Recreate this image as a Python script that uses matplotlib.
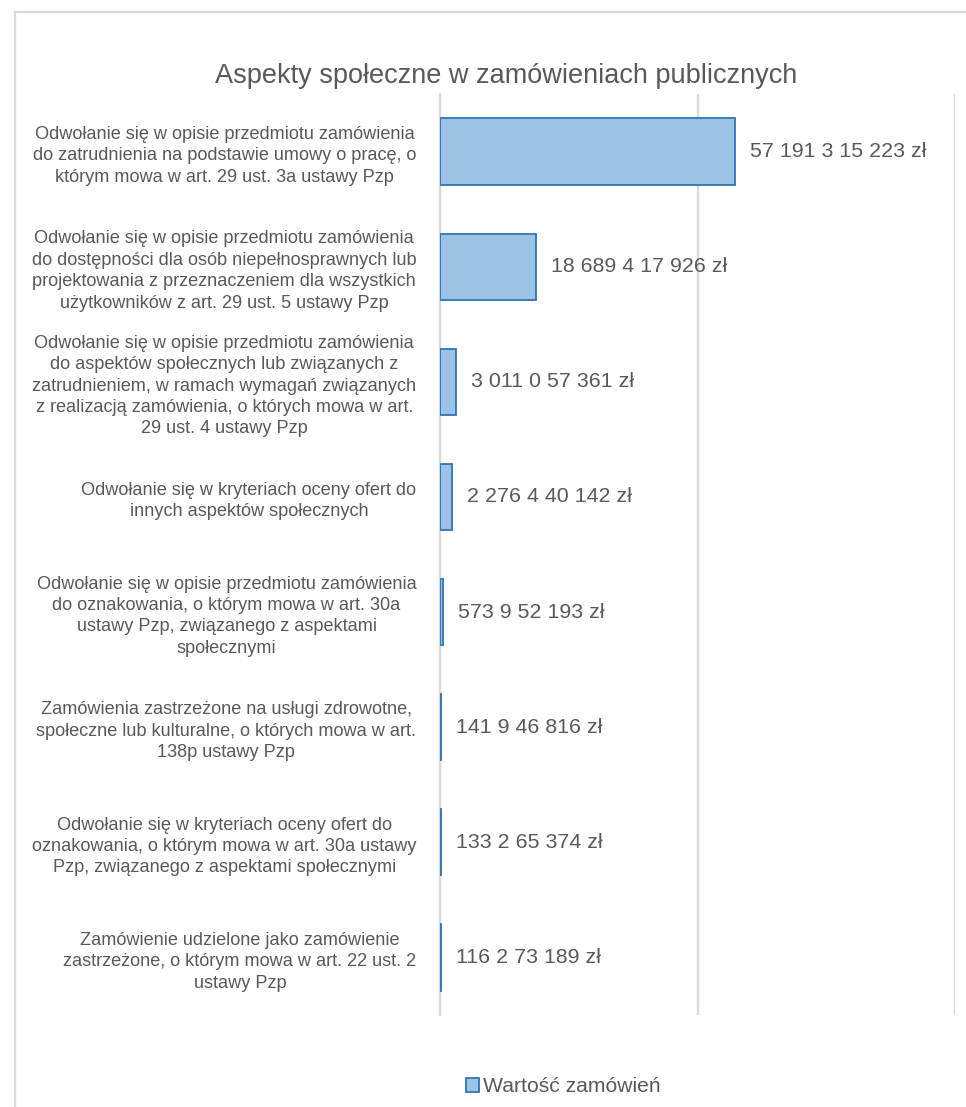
import matplotlib.pyplot as plt
from matplotlib.patches import Rectangle

plt.rcParams['font.family'] = ['Liberation Sans', 'DejaVu Sans']

# --- Data ---
TITLE = 'Aspekty społeczne w zamówieniach publicznych'
SERIES_NAME = 'Wartość zamówień'

categories = [
    'Odwołanie się w opisie przedmiotu zamówienia\n'
    'do zatrudnienia na podstawie umowy o pracę, o\n'
    'którym mowa w art. 29 ust. 3a ustawy Pzp',
    'Odwołanie się w opisie przedmiotu zamówienia\n'
    'do dostępności dla osób niepełnosprawnych lub\n'
    'projektowania z przeznaczeniem dla wszystkich\n'
    'użytkowników z art. 29 ust. 5 ustawy Pzp',
    'Odwołanie się w opisie przedmiotu zamówienia\n'
    'do aspektów społecznych lub związanych z\n'
    'zatrudnieniem, w ramach wymagań związanych\n'
    'z realizacją zamówienia, o których mowa w art.\n'
    '29 ust. 4 ustawy Pzp',
    'Odwołanie się w kryteriach oceny ofert do\n'
    'innych aspektów społecznych',
    'Odwołanie się w opisie przedmiotu zamówienia\n'
    'do oznakowania, o którym mowa w art. 30a\n'
    'ustawy Pzp, związanego z aspektami\n'
    'społecznymi',
    'Zamówienia zastrzeżone na usługi zdrowotne,\n'
    'społeczne lub kulturalne, o których mowa w art.\n'
    '138p ustawy Pzp',
    'Odwołanie się w kryteriach oceny ofert do\n'
    'oznakowania, o którym mowa w art. 30a ustawy\n'
    'Pzp, związanego z aspektami społecznymi',
    'Zamówienie udzielone jako zamówienie\n'
    'zastrzeżone, o którym mowa w art. 22 ust. 2\n'
    'ustawy Pzp',
]

values = [
    57191315223,
    18689417926,
    3011057361,
    2276440142,
    573952193,
    141946816,
    133265374,
    116273189,
]

x_max = 100_000_000_000
grid_ticks = [0, 50_000_000_000, 100_000_000_000]

TEXT = '#595959'
FILL = '#9DC3E6'
EDGE = '#2E75B6'
GRID = '#D9D9D9'


def fmt_value(v):
    # digit groups as they come out of the source sheet: ..., 3, 1, 2, 3
    s = str(v)
    parts = [s[:-9], s[-9:-6], s[-6:-5], s[-5:-3], s[-3:]]
    return ' '.join(p for p in parts if p) + ' zł'


W, H = 966, 1107
fig = plt.figure(figsize=(W / 100, H / 100), dpi=100)

# outer chart frame (runs past the right and bottom edges)
fig.patches.append(Rectangle((15 / W, -0.05), 1.1, 1 - 12 / H + 0.05,
                             transform=fig.transFigure, fill=False,
                             edgecolor=GRID, linewidth=1.6))

left, right, top, bottom = 440, 955, 94, 1015
ax = fig.add_axes([left / W, 1 - bottom / H, (right - left) / W, (bottom - top) / H])

y = list(range(len(values)))
bars = ax.barh(y, values, height=0.575, color=FILL, edgecolor=EDGE,
               linewidth=1.3, label=SERIES_NAME, zorder=3)

ax.set_xlim(0, x_max)
ax.set_ylim(len(values) - 0.5, -0.5)
ax.set_xticks(grid_ticks)
ax.xaxis.grid(True, color=GRID, linewidth=1.6, zorder=0)
ax.tick_params(axis='x', length=0, labelbottom=False)
ax.tick_params(axis='y', length=0, pad=17)
ax.set_yticks(y)
ax.set_yticklabels(categories, fontsize=13.1, color=TEXT,
                   multialignment='center', linespacing=1.34)
for s in ['top', 'right', 'bottom']:
    ax.spines[s].set_visible(False)
ax.spines['left'].set_color(GRID)
ax.spines['left'].set_linewidth(1.6)

for b, v in zip(bars, values):
    ax.annotate(fmt_value(v), (v, b.get_y() + b.get_height() / 2),
                xytext=(15, 0), textcoords='offset pixels',
                va='center', ha='left', fontsize=15.4, color=TEXT)

fig.text(506 / W, 1 - 76 / H, TITLE, ha='center', va='center',
         fontsize=19.5, color=TEXT)

fig.legend(handles=[bars], labels=[SERIES_NAME], loc='center',
           bbox_to_anchor=(563 / W, 1 - 1087 / H), frameon=False,
           fontsize=15.2, labelcolor=TEXT, handlelength=0.65, handleheight=0.65,
           handletextpad=0.15)

fig.savefig('out.png', dpi=100)
